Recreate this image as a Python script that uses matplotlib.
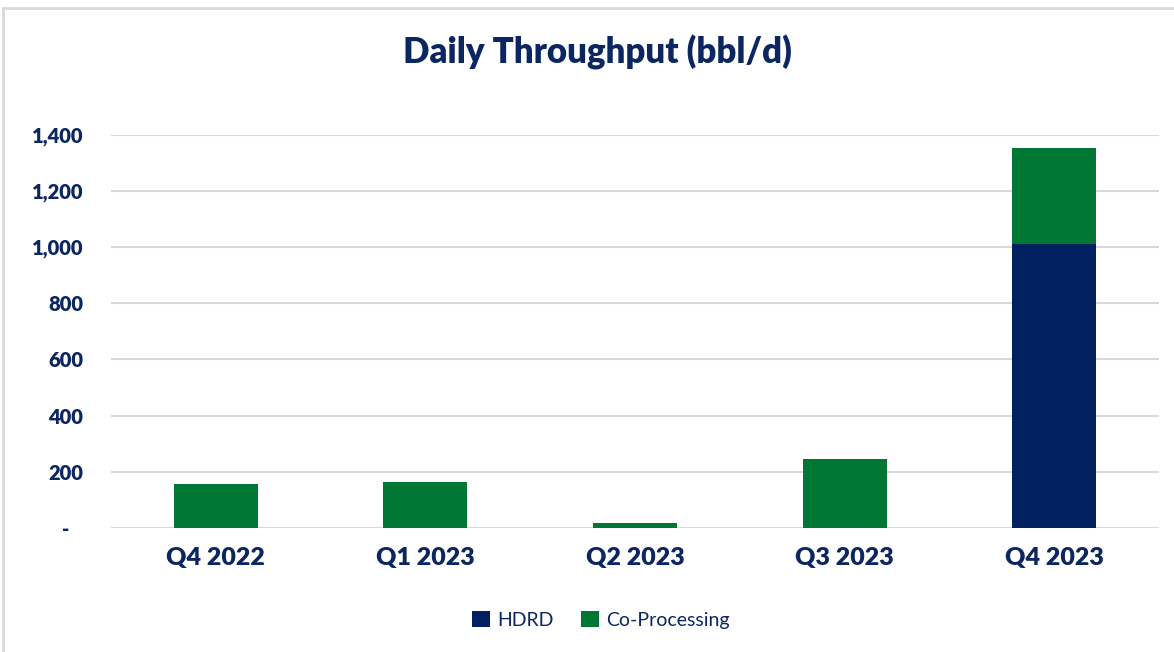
import matplotlib
matplotlib.use("Agg")
import matplotlib.pyplot as plt
from matplotlib.patches import Rectangle, Patch
from matplotlib.ticker import FuncFormatter

categories = ["Q4 2022", "Q1 2023", "Q2 2023", "Q3 2023", "Q4 2023"]
hdrd = [0, 0, 0, 0, 1012]
coproc = [155, 165, 18, 245, 341]
yticks = [0, 200, 400, 600, 800, 1000, 1200, 1400]

NAVY = "#002060"
GREEN = "#007735"
GRID = "#D9D9D9"
TXT = "#0B2660"

plt.rcParams['font.family'] = ['Lato', 'DejaVu Sans']

fig = plt.figure(figsize=(11.74, 6.52), dpi=100)
ax = fig.add_axes([111/1174, 1-528/652, (1159-111)/1174, (528-134.7)/652])

x = list(range(len(categories)))
ax.bar(x, hdrd, width=0.4, color=NAVY, label="HDRD", zorder=3)
ax.bar(x, coproc, width=0.4, bottom=hdrd, color=GREEN, label="Co-Processing", zorder=3)

ax.set_xlim(-0.5, len(categories) - 0.5)
ax.set_ylim(0, 1400)
ax.set_yticks(yticks)
ax.yaxis.set_major_formatter(FuncFormatter(lambda v, p: "-   " if v == 0 else f"{int(v):,}"))
ax.set_xticks(x)
ax.set_xticklabels(categories)
ax.grid(axis='y', color=GRID, linewidth=1.5, zorder=0)
ax.set_axisbelow(True)
for s in ax.spines.values():
    s.set_visible(False)
ax.tick_params(axis='both', length=0)
ax.tick_params(axis='y', pad=20, labelsize=14.5, labelcolor=TXT)
ax.tick_params(axis='x', pad=14, labelsize=18, labelcolor=TXT)
for lab in ax.get_yticklabels() + ax.get_xticklabels():
    lab.set_fontweight('heavy')
ax.set_clip_on(False)

fig.text(597/1174, 1-52/652, "Daily Throughput (bbl/d)", ha='center', va='center',
         fontsize=25, fontweight='heavy', color=TXT)

handles = [Patch(facecolor=NAVY, label="HDRD"), Patch(facecolor=GREEN, label="Co-Processing")]
fig.legend(handles=handles, loc='center', bbox_to_anchor=(601/1174, 1-620/652), ncol=2,
           frameon=False, fontsize=14, labelcolor=TXT, handlelength=0.9, handleheight=0.9,
           handletextpad=0.4, columnspacing=1.4)

fig.patches.append(Rectangle((3/1174, -0.1), 1.2, 1 - 8/652 + 0.1, transform=fig.transFigure,
                             fill=False, edgecolor=GRID, linewidth=2))

fig.savefig("out.png", dpi=100)
